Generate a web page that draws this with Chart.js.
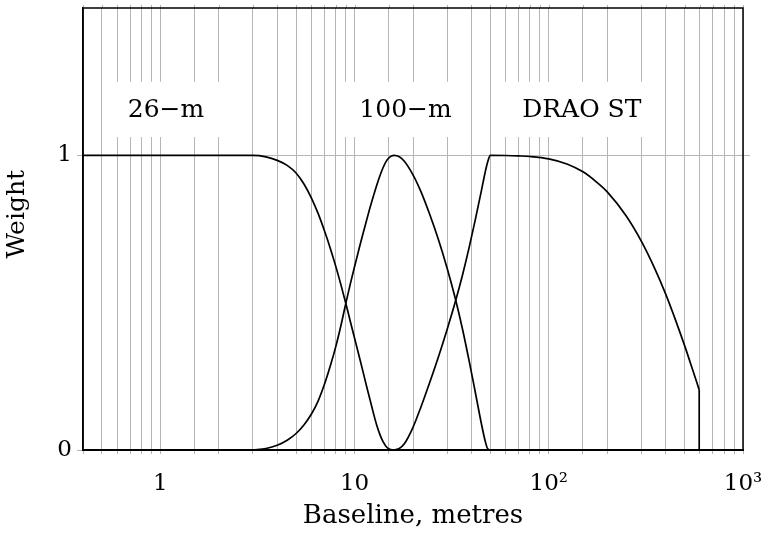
<!DOCTYPE html>
<html>
<head>
<meta charset="utf-8">
<script src="https://cdn.jsdelivr.net/npm/chart.js@4.4.1/dist/chart.umd.min.js"></script>
<style>
  html, body { margin: 0; padding: 0; background: #fff; }
</style>
</head>
<body>
<canvas id="weightChart" width="767" height="533"></canvas>
<script>
// weights, baselines in metres
const base26 = [0.4, 1, 2, 3, 3.5, 4, 4.5, 5, 5.5, 6, 6.5, 7, 7.5, 8, 8.5, 9, 9.5, 10, 10.5, 11, 11.5, 12, 12.5, 13, 13.5, 14, 14.5, 15, 15.6];
const weight26 = [1, 1, 1, 1, 0.995, 0.983, 0.966, 0.94, 0.902, 0.855, 0.802, 0.744, 0.685, 0.624, 0.562, 0.5, 0.438, 0.38, 0.325, 0.272, 0.22, 0.172, 0.126, 0.085, 0.053, 0.029, 0.013, 0.004, 0];

const base100 = [3, 3.5, 4, 4.5, 5, 5.5, 6, 6.5, 7, 7.5, 8, 8.5, 9, 9.5, 10, 10.5, 11, 11.5, 12, 12.5, 13, 13.5, 14, 14.5, 15, 15.5, 16, 17, 18, 20, 22, 24.4, 27, 30, 33, 36, 39, 42, 45, 47, 48.5, 50];
const weight100 = [0, 0.005, 0.016, 0.033, 0.056, 0.086, 0.122, 0.167, 0.223, 0.285, 0.35, 0.421, 0.495, 0.562, 0.622, 0.677, 0.729, 0.776, 0.821, 0.861, 0.898, 0.93, 0.957, 0.978, 0.991, 0.998, 1, 0.995, 0.981, 0.934, 0.876, 0.799, 0.715, 0.616, 0.515, 0.409, 0.299, 0.191, 0.089, 0.032, 0.004, 0];

const baseDrao = [16, 17, 18, 20, 22, 24.4, 27, 30, 33, 36, 39, 42, 45, 47, 48.5, 50, 60, 70, 80, 100, 125, 150, 175, 200, 250, 300, 350, 400, 450, 500, 550, 595];
const weightDrao = [0, 0.005, 0.02, 0.077, 0.147, 0.23, 0.315, 0.41, 0.502, 0.595, 0.69, 0.786, 0.88, 0.941, 0.978, 1, 0.9995, 0.998, 0.996, 0.988, 0.97, 0.944, 0.911, 0.876, 0.795, 0.708, 0.618, 0.529, 0.44, 0.355, 0.273, 0.204];

// the DRAO taper is cut off sharply at the longest baseline
const dropBase = [595, 595];
const dropWeight = [0.204, 0];

const xTickValues = [1, 10, 100, 1000];
const xTickText = ['1', '10', '10²', '10³'];
const yTickValues = [0, 1];

const panelNames = ['26−m', '100−m', 'DRAO ST'];

const serif = '"DejaVu Serif", serif';
const gridGrey = '#b5b5b5';

function pts(xs, ys){
    return xs.map((b, i) => ({x: b, y: ys[i]}));
}

// white boxes with the telescope names, y title and the closed frame
const panelLabels = {
    id: 'panelLabels',
    afterDraw(chart){
        const ctx = chart.ctx;
        const x = chart.scales.x, y = chart.scales.y;
        const a = chart.chartArea;
        const spans = [[0.53, 2.6], [8.6, 35], [55, 350]];
        const centres = [1.07, 18.3, 148];
        const boxTop = y.getPixelForValue(1.25);
        const boxBottom = y.getPixelForValue(1.062);
        ctx.save();

        // grid lines poke a little outside the frame
        ctx.strokeStyle = gridGrey;
        ctx.lineWidth = 1;
        ctx.beginPath();
        x.ticks.forEach(t => {
            const px = Math.round(x.getPixelForValue(t.value)) + 0.5;
            ctx.moveTo(px, a.top - 3);
            ctx.lineTo(px, a.top);
        });
        const py = Math.round(y.getPixelForValue(1)) + 0.5;
        ctx.moveTo(a.right, py);
        ctx.lineTo(a.right + 7, py);
        ctx.stroke();

        ctx.textAlign = 'center';
        ctx.textBaseline = 'middle';
        panelNames.forEach((name, i) => {
            const l = x.getPixelForValue(spans[i][0]);
            const r = x.getPixelForValue(spans[i][1]);
            ctx.fillStyle = '#fff';
            ctx.fillRect(l, boxTop, r - l, boxBottom - boxTop);
            ctx.fillStyle = '#000';
            ctx.font = '25px ' + serif;
            ctx.fillText(name, x.getPixelForValue(centres[i]), y.getPixelForValue(1.153));
        });

        // axis title sits a bit above the middle of the frame
        ctx.save();
        ctx.translate(17, y.getPixelForValue(0.8));
        ctx.rotate(-Math.PI / 2);
        ctx.font = '25px ' + serif;
        ctx.fillText('Weight', 0, 0);
        ctx.restore();

        ctx.strokeStyle = '#000';
        ctx.lineWidth = 1.5;
        ctx.strokeRect(a.left, a.top, a.right - a.left, a.bottom - a.top);
        ctx.restore();
    }
};

const lineStyle = {
    showLine: true,
    borderColor: '#000',
    borderWidth: 1.7,
    pointRadius: 0,
    fill: false,
    cubicInterpolationMode: 'monotone'
};

new Chart(document.getElementById('weightChart'), {
    type: 'scatter',
    data: {
        datasets: [
            Object.assign({label: '26-m', data: pts(base26, weight26)}, lineStyle),
            Object.assign({label: '100-m', data: pts(base100, weight100)}, lineStyle),
            Object.assign({label: 'DRAO ST', data: pts(baseDrao, weightDrao)}, lineStyle),
            Object.assign({label: 'cut', data: pts(dropBase, dropWeight)}, lineStyle, {cubicInterpolationMode: 'default', tension: 0})
        ]
    },
    options: {
        responsive: false,
        animation: false,
        devicePixelRatio: 1,
        layout: {padding: {top: 8, right: 24, left: 0, bottom: 0}},
        plugins: {
            legend: {display: false},
            tooltip: {enabled: false}
        },
        scales: {
            x: {
                type: 'logarithmic',
                min: 0.4,
                max: 1000,
                afterFit: s => { s.height = 83; s.paddingLeft = 0; s.paddingRight = 0; },
                grid: {color: gridGrey, lineWidth: 1, tickLength: 4, drawTicks: true},
                border: {display: true, color: '#000', width: 2},
                ticks: {
                    autoSkip: false,
                    maxRotation: 0,
                    padding: 16,
                    color: '#000',
                    font: {family: serif, size: 23},
                    callback: v => {
                        const i = xTickValues.findIndex(t => Math.abs(t - v) < 1e-9 * t);
                        return i >= 0 ? xTickText[i] : '';
                    }
                },
                title: {
                    display: true,
                    text: 'Baseline, metres',
                    color: '#000',
                    font: {family: serif, size: 26},
                    padding: {top: 0, bottom: 1}
                }
            },
            y: {
                min: 0,
                max: 1.5,
                afterFit: s => { s.width = 83; s.paddingTop = 0; s.paddingBottom = 0; },
                afterBuildTicks: s => { s.ticks = yTickValues.map(v => ({value: v})); },
                grid: {color: gridGrey, lineWidth: 1, tickLength: 6},
                border: {display: true, color: '#000', width: 1.5},
                ticks: {
                    padding: 5,
                    color: '#000',
                    font: {family: serif, size: 23}
                }
            }
        }
    },
    plugins: [panelLabels]
});
</script>
</body>
</html>
